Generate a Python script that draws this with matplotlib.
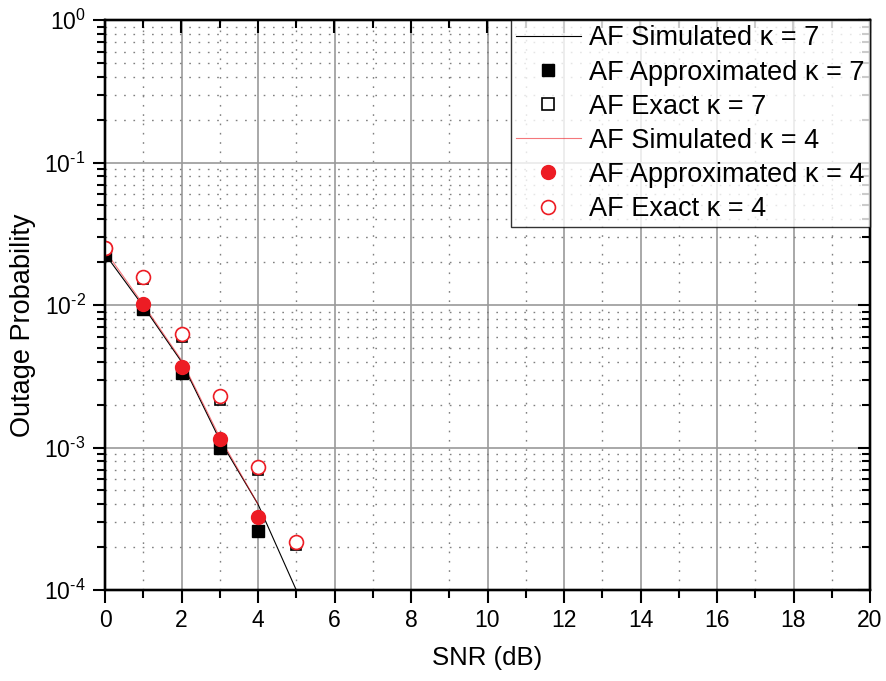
import matplotlib
matplotlib.use("Agg")
import matplotlib.pyplot as plt
from matplotlib.ticker import LogLocator, MultipleLocator, NullFormatter
from matplotlib.lines import Line2D

plt.rcParams["font.family"] = ["Liberation Sans", "DejaVu Sans"]
plt.rcParams["mathtext.fontset"] = "custom"
plt.rcParams["mathtext.rm"] = "Liberation Sans"
plt.rcParams["mathtext.it"] = "Liberation Sans"

# SNR grid (dB)
snr = [0, 1, 2, 3, 4, 5]
snr_sim4 = [0, 1, 2, 3, 4]

# kappa = 7
sim_k7 = [0.0228, 0.0098, 0.0040, 0.00113, 0.00040, 0.000100]
approx_k7 = [0.0224, 0.0094, 0.00335, 0.00099, 0.000261]
exact_k7 = [0.0240, 0.0151, 0.0060, 0.00216, 0.000697, 0.000208]

# kappa = 4
sim_k4 = [0.0240, 0.0101, 0.0041, 0.00118, 0.00040]
approx_k4 = [0.0250, 0.0102, 0.00369, 0.00114, 0.000327]
exact_k4 = [0.0250, 0.0158, 0.00626, 0.00230, 0.000733, 0.000218]

y_ticks = [1e-4, 1e-3, 1e-2, 1e-1, 1]
y_tick_labels = [r"$10^{\text{-}4}$", r"$10^{\text{-}3}$", r"$10^{\text{-}2}$",
                 r"$10^{\text{-}1}$", r"$10^{0}$"]

red = "#ED1C24"

fig = plt.figure(figsize=(8.86, 6.81), dpi=100)
ax = fig.add_axes([105 / 886, 1 - 590 / 681, (870 - 105) / 886, (590 - 20) / 681])
ax.set_yscale("log")
ax.set_xlim(0, 20)
ax.set_ylim(1e-4, 1)

ax.plot(snr, sim_k7, color="black", lw=0.8, zorder=3)
ax.plot(snr[:5], approx_k7, ls="none", marker="s", ms=9, mfc="black", mec="black", zorder=4)
ax.plot(snr, exact_k7, ls="none", marker="s", ms=7.5, mfc="white", mec="black", mew=1.2, zorder=4)
ax.plot(snr_sim4, sim_k4, color=red, lw=0.8, alpha=0.6, zorder=3)
ax.plot(snr[:5], approx_k4, ls="none", marker="o", ms=10, mfc=red, mec=red, zorder=5)
ax.plot(snr, exact_k4, ls="none", marker="o", ms=10, mfc="white", mec=red, mew=1.2, zorder=5)

# ticks and grid
ax.xaxis.set_major_locator(MultipleLocator(2))
ax.xaxis.set_minor_locator(MultipleLocator(1))
ax.set_yticks(y_ticks)
ax.set_yticklabels(y_tick_labels)
ax.yaxis.set_minor_locator(LogLocator(base=10, subs=range(2, 10), numticks=20))
ax.yaxis.set_minor_formatter(NullFormatter())
ax.grid(which="major", color="#9a9a9a", lw=1.2, ls="-")
ax.grid(which="minor", color="#808080", lw=1.0, ls=(0, (1.2, 5.5)))
ax.set_axisbelow(True)

ax.tick_params(which="major", direction="out", length=9, width=1.5, labelsize=16.5, pad=5)
ax.tick_params(which="minor", direction="out", length=6, width=1.5)
for s in ax.spines.values():
    s.set_linewidth(1.6)

# inward ticks on the top and right spines
axr = ax.twinx()
axr.set_yscale("log")
axr.set_ylim(ax.get_ylim())
axr.set_yticks(y_ticks)
axr.yaxis.set_minor_locator(LogLocator(base=10, subs=range(2, 10), numticks=20))
axr.tick_params(which="both", direction="in", labelright=False, width=1.5)
axr.tick_params(which="major", length=9)
axr.tick_params(which="minor", length=6)
axt = ax.twiny()
axt.set_xlim(ax.get_xlim())
axt.xaxis.set_major_locator(MultipleLocator(2))
axt.xaxis.set_minor_locator(MultipleLocator(1))
axt.tick_params(which="both", direction="in", labeltop=False, width=1.5)
axt.tick_params(which="major", length=9)
axt.tick_params(which="minor", length=6)
for a in (axr, axt):
    for s in a.spines.values():
        s.set_linewidth(1.6)

ax.set_xlabel("SNR (dB)", fontsize=18.5, labelpad=10)
ax.set_ylabel("Outage Probability", fontsize=19.5, labelpad=6)
ax.yaxis.label.set_y(0.465)

handles = [
    Line2D([], [], color="black", lw=0.8),
    Line2D([], [], ls="none", marker="s", ms=9, mfc="black", mec="black"),
    Line2D([], [], ls="none", marker="s", ms=8, mfc="white", mec="black", mew=1.2),
    Line2D([], [], color=red, lw=0.8, alpha=0.6),
    Line2D([], [], ls="none", marker="o", ms=10, mfc=red, mec=red),
    Line2D([], [], ls="none", marker="o", ms=10, mfc="white", mec=red, mew=1.2),
]
labels = [
    "AF Simulated κ = 7",
    "AF Approximated κ = 7",
    "AF Exact κ = 7",
    "AF Simulated κ = 4",
    "AF Approximated κ = 4",
    "AF Exact κ = 4",
]
leg = axt.legend(handles, labels, loc="upper right", fontsize=19.5, frameon=True,
                 fancybox=False, borderaxespad=0, handlelength=2.4, handletextpad=0.3,
                 labelspacing=0.3, borderpad=0.2)
leg.get_frame().set_edgecolor("black")
leg.get_frame().set_linewidth(1.0)
leg.set_zorder(10)

fig.savefig("out.png", dpi=100)
